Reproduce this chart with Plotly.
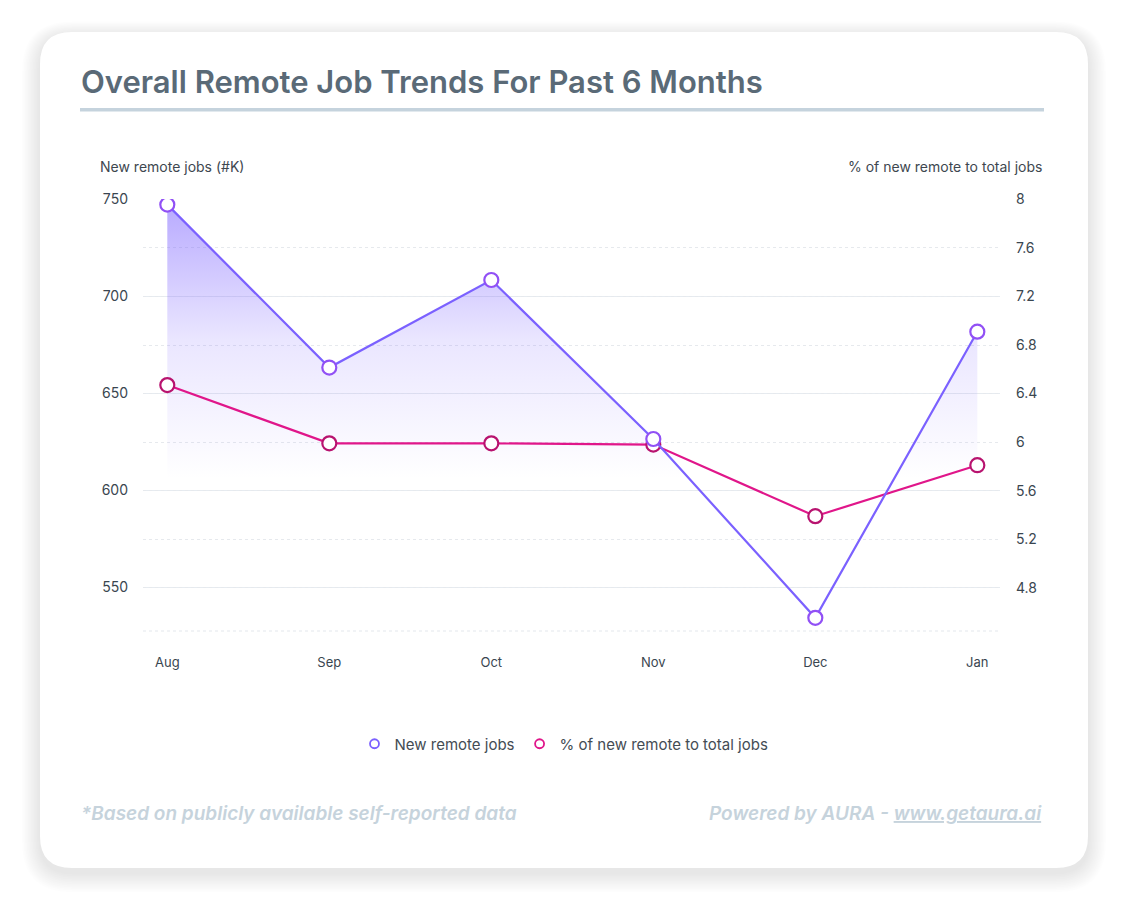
import plotly.graph_objects as go

months = ["Aug", "Sep", "Oct", "Nov", "Dec", "Jan"]
new_remote_jobs = [747.4, 663.3, 708.5, 626.4, 534.1, 681.8]
pct_remote = [6.47, 5.99, 5.99, 5.98, 5.39, 5.81]

W, H = 1128, 916
OFF = 8  # page body margin
PL, PR, PT, PB = 143 - OFF, 1000 - OFF, 199 - OFF, 631 - OFF  # plot area in figure px
pw, ph = PR - PL, PB - PT


def px(x):
    return (x - OFF - PL) / pw


def py(y):
    return (PB - (y - OFF)) / ph


def rrect(x0, y0, x1, y1, r):
    rx, ry = r / pw, r / ph
    X0, X1 = px(x0), px(x1)
    Y0, Y1 = py(y0), py(y1)
    return (f"M {X0+rx},{Y0} L {X1-rx},{Y0} Q {X1},{Y0} {X1},{Y0-ry} "
            f"L {X1},{Y1+ry} Q {X1},{Y1} {X1-rx},{Y1} L {X0+rx},{Y1} "
            f"Q {X0},{Y1} {X0},{Y1+ry} L {X0},{Y0-ry} Q {X0},{Y0} {X0+rx},{Y0} Z")


PURPLE = "#7b61ff"
PURPLE_MK = "#9150f5"
PINK = "#e0168a"
PINK_MK = "#b8136f"
FONT = "Inter"

fig = go.Figure()

fig.add_trace(go.Scatter(
    x=months, y=new_remote_jobs, mode="lines", line=dict(width=0, color=PURPLE),
    fill="tozeroy",
    fillgradient=dict(type="vertical", start=606, stop=750,
                      colorscale=[[0, "rgba(123,97,255,0)"], [0.5, "rgba(123,97,255,0.16)"],
                                  [1, "rgba(123,97,255,0.55)"]]),
    showlegend=False, hoverinfo="skip", yaxis="y"))

fig.add_trace(go.Scatter(
    x=months, y=pct_remote, mode="lines+markers", yaxis="y2",
    line=dict(color=PINK, width=2.2),
    marker=dict(size=14, color="white", line=dict(color=PINK_MK, width=2.2)),
    showlegend=False, name="% of new remote to total jobs"))

fig.add_trace(go.Scatter(
    x=months, y=new_remote_jobs, mode="lines+markers", yaxis="y3",
    line=dict(color=PURPLE, width=2.2),
    marker=dict(size=14, color="white", line=dict(color=PURPLE_MK, width=2.2)),
    showlegend=False, name="New remote jobs"))

fig.add_trace(go.Scatter(x=[None], y=[None], mode="markers", name="New remote jobs",
                         marker=dict(size=9, color="white", line=dict(color=PURPLE, width=1.8))))
fig.add_trace(go.Scatter(x=[None], y=[None], mode="markers", name="% of new remote to total jobs",
                         marker=dict(size=9, color="white", line=dict(color=PINK, width=1.8))))

y1_range = [527.3, 750.3]
shapes = []
for i in range(12, 0, -1):
    shapes.append(dict(type="path", xref="paper", yref="paper", layer="below",
                       path=rrect(40 - i * 1.5, 32 - i * 1.2 + 4, 1088 + i * 1.5, 868 + i * 1.6 + 5, 32 + i * 1.5),
                       fillcolor="rgba(0,0,0,0.008)", line=dict(width=0)))
shapes.append(dict(type="path", xref="paper", yref="paper", layer="below",
                   path=rrect(40, 32, 1088, 868, 32), fillcolor="white", line=dict(width=0)))
shapes.append(dict(type="rect", xref="paper", yref="paper", layer="below",
                   x0=px(80), x1=px(1044), y0=py(108), y1=py(111.5),
                   fillcolor="#c5d3dd", line=dict(width=0)))
shapes.append(dict(type="line", xref="paper", yref="paper", layer="below",
                   x0=0, x1=1, y0=0, y1=0, line=dict(color="#e3e7ec", width=1, dash="3px,3px")))

annotations = [
    dict(text="Overall Remote Job Trends For Past 6 Months", x=px(79), y=py(81), xref="paper", yref="paper",
         xanchor="left", yanchor="middle", showarrow=False,
         font=dict(family=FONT, size=31, color="#5a6a77", weight=600)),
    dict(text="New remote jobs (#K)", x=px(98), y=py(167), xref="paper", yref="paper",
         xanchor="left", yanchor="middle", showarrow=False,
         font=dict(family=FONT, size=14, color="#3e474f")),
    dict(text="% of new remote to total jobs", x=px(1044), y=py(167), xref="paper", yref="paper",
         xanchor="right", yanchor="middle", showarrow=False,
         font=dict(family=FONT, size=14, color="#3e474f")),
    dict(text="<i>*Based on publicly available self-reported data</i>", x=px(79), y=py(813),
         xref="paper", yref="paper", xanchor="left", yanchor="middle", showarrow=False,
         font=dict(family=FONT, size=19, color="#c6d3dc", weight=600)),
    dict(text="<i>Powered by AURA - <u>www.getaura.ai</u></i>", x=px(1044), y=py(813),
         xref="paper", yref="paper", xanchor="right", yanchor="middle", showarrow=False,
         font=dict(family=FONT, size=19, color="#c6d3dc", weight=600)),
]

fig.update_layout(
    width=W, height=H, paper_bgcolor="white", plot_bgcolor="rgba(0,0,0,0)",
    margin=dict(l=PL, r=W - PR, t=PT, b=H - PB, pad=0),
    font=dict(family=FONT, color="#3a4650"),
    xaxis=dict(type="category", range=[-0.15, 5.14], showgrid=False, zeroline=False,
               showline=False, ticks="", tickfont=dict(size=13, color="#3a4650"),
               ticklabelstandoff=22),
    yaxis=dict(range=y1_range, dtick=50, tick0=0, showgrid=True, gridcolor="#e6ebf0", gridwidth=1,
               zeroline=False, showline=False, ticks="", tickfont=dict(size=14, color="#3a4650"),
               ticklabelstandoff=14),
    yaxis2=dict(range=[4.4445, 8.0025], dtick=0.4, tick0=0, overlaying="y", side="right",
                showgrid=True, gridcolor="#e6e9ed", griddash="3px,3px", gridwidth=1,
                zeroline=False, showline=False, ticks="", tickfont=dict(size=14, color="#3a4650"),
                ticklabelstandoff=15),
    yaxis3=dict(range=y1_range, overlaying="y", visible=False),
    legend=dict(orientation="h", x=px(564), y=py(744), xanchor="center", yanchor="middle",
                font=dict(size=15, color="#444c54"), itemwidth=30, bgcolor="rgba(0,0,0,0)",
                tracegroupgap=0),
    shapes=shapes, annotations=annotations, hovermode=False,
)

fig.write_html("out.html")
